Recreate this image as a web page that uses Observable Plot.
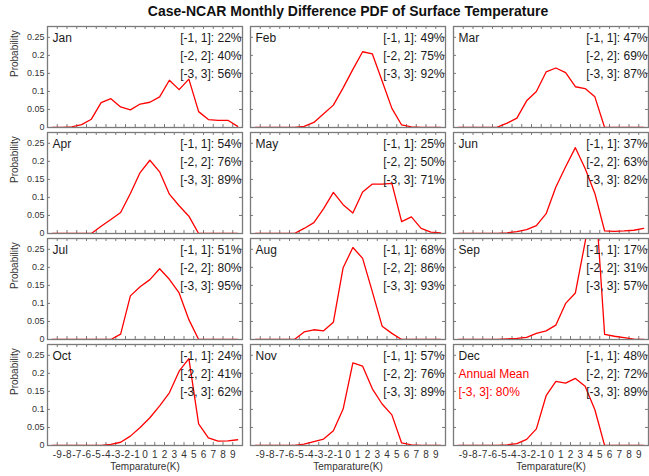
<!DOCTYPE html>
<html><head><meta charset="utf-8">
<script src="https://cdn.jsdelivr.net/npm/d3@7"></script>
<script src="https://cdn.jsdelivr.net/npm/@observablehq/plot@0.6"></script>
<style>
body{margin:0;background:#fff;font-family:"Liberation Sans",Arial,sans-serif;}
#wrap{position:relative;width:649px;height:476px;overflow:hidden;}
#title{position:absolute;left:47px;width:602px;top:3px;text-align:center;font-weight:bold;font-size:14px;color:#111;}
#chart{position:absolute;left:0;top:20px;}
</style></head><body>
<div id="wrap"><div id="title">Case-NCAR Monthly Difference PDF of Surface Temperature</div><div id="chart"></div></div>
<script>
const months = ["Jan","Feb","Mar","Apr","May","Jun","Jul","Aug","Sep","Oct","Nov","Dec"];
const xCenters = [-9.5,-8.5,-7.5,-6.5,-5.5,-4.5,-3.5,-2.5,-1.5,-0.5,0.5,1.5,2.5,3.5,4.5,5.5,6.5,7.5,8.5,9.5];
const jan = [0,0,0.002,0.008,0.023,0.069,0.080,0.057,0.049,0.065,0.070,0.085,0.131,0.105,0.134,0.044,0.022,0.020,0.020,0.003];
const feb = [0,0,0,0,0,0.003,0.014,0.038,0.062,0.110,0.161,0.210,0.204,0.129,0.053,0.007,0.002,0,0,0];
const mar = [0,0,0,0,0.001,0.012,0.026,0.074,0.100,0.154,0.165,0.152,0.113,0.108,0.085,0,0,0,0,0];
const apr = [0,0,0,0,0,0.020,0.039,0.058,0.111,0.169,0.203,0.171,0.109,0.077,0.048,0,0,0,0,0];
const may = [0,0,0,0,0,0.014,0.030,0.069,0.114,0.080,0.057,0.115,0.137,0.137,0.139,0.033,0.046,0.014,0.004,0.002];
const jun = [0,0,0,0,0,0.002,0.005,0.011,0.022,0.055,0.129,0.185,0.238,0.180,0.111,0.007,0.006,0.007,0.009,0.014];
const jul = [0,0,0,0,0,0,0,0.015,0.121,0.146,0.166,0.196,0.167,0.129,0.055,0,0,0,0,0];
const aug = [0,0,0,0,0,0.021,0.027,0.024,0.048,0.199,0.255,0.225,0.132,0.037,0.017,0,0,0,0,0];
const sep = [0,0,0,0,0,0.002,0.003,0.006,0.017,0.024,0.040,0.100,0.129,0.270,0.420,0.014,0.009,0.005,0.001,0];
const oct = [0,0,0,0,0,0,0.003,0.009,0.026,0.050,0.077,0.110,0.146,0.206,0.241,0.060,0.021,0.012,0.013,0.016];
const nov = [0,0,0,0,0,0.004,0.011,0.018,0.041,0.101,0.229,0.220,0.157,0.115,0.085,0.007,0.002,0,0,0];
const dec = [0,0,0,0,0,0.002,0.005,0.017,0.046,0.138,0.178,0.173,0.186,0.164,0.099,0,0,0,0,0];
const series = [jan,feb,mar,apr,may,jun,jul,aug,sep,oct,nov,dec];
const pct1 = [22,49,47,54,25,37,51,68,17,24,57,48];
const pct2 = [40,75,69,76,50,63,80,86,31,41,76,72];
const pct3 = [56,92,87,89,71,82,95,93,57,62,89,89];
const annualMean3 = 80;
const xTicks = [-9,-8,-7,-6,-5,-4,-3,-2,-1,0,1,2,3,4,5,6,7,8,9];
const yTicks = [0,0.05,0.1,0.15,0.2,0.25];
const xDomain = [-10,10];
const yDomain = [0,0.28];

const rows = [];
series.forEach((vals,i)=>vals.forEach((v,k)=>rows.push({month:months[i],col:i%3,row:Math.floor(i/3),x:xCenters[k],y:v})));
const panels = months.map((m,i)=>({month:m,col:i%3,row:Math.floor(i/3),
  s1:`[-1, 1]: ${pct1[i]}%`, s2:`[-2, 2]: ${pct2[i]}%`, s3:`[-3, 3]: ${pct3[i]}%`}));
const bottomPanels = panels.filter(p=>p.row===3);
const leftPanels = panels.filter(p=>p.col===0);
const decPanel = panels.filter(p=>p.month==="Dec");

const tickLenY = (yDomain[1]-yDomain[0])*3/102;
const tickLenX = (xDomain[1]-xDomain[0])*3/195;
const frameColor = "#7a7a7a";
const txt = {fontSize:12, fill:"#1a1a1a", lineAnchor:"middle"};

const plot = Plot.plot({
  width:649, height:456,
  marginLeft:47, marginRight:1, marginTop:5, marginBottom:29,
  style:{fontFamily:"Liberation Sans, Arial, sans-serif", background:"white"},
  x:{domain:xDomain},
  y:{domain:yDomain},
  fx:{domain:[0,1,2], axis:null, paddingInner:0.04, paddingOuter:0},
  fy:{domain:[0,1,2,3], axis:null, paddingInner:0.047, paddingOuter:0},
  marks:[
    Plot.axisX(xTicks,{anchor:"bottom", tickSize:0, tickPadding:5, fontSize:10, color:"#333", label:null, tickFormat:d=>String(d)}),
    Plot.axisY(yTicks,{anchor:"left", tickSize:0, tickPadding:3, fontSize:9, color:"#333", label:null, tickFormat:d3.format("~g")}),
    Plot.ruleX(xTicks,{x:d=>d, y1:yDomain[0], y2:yDomain[0]+tickLenY, stroke:frameColor}),
    Plot.ruleX(xTicks,{x:d=>d, y1:yDomain[1]-tickLenY, y2:yDomain[1], stroke:frameColor}),
    Plot.ruleY(yTicks,{y:d=>d, x1:xDomain[0], x2:xDomain[0]+tickLenX, stroke:frameColor}),
    Plot.ruleY(yTicks,{y:d=>d, x1:xDomain[1]-tickLenX, x2:xDomain[1], stroke:frameColor}),
    Plot.line(rows,{x:"x", y:"y", fx:"col", fy:"row", z:"month", stroke:"#ff0000", strokeWidth:1.3, clip:true}),
    Plot.frame({stroke:frameColor, strokeWidth:1.3}),
    Plot.text(panels,{fx:"col", fy:"row", text:"month", frameAnchor:"top-left", dx:5, dy:11.3, textAnchor:"start", ...txt}),
    Plot.text(panels,{fx:"col", fy:"row", text:"s1", frameAnchor:"top-right", dx:-1, dy:11.3, textAnchor:"end", ...txt}),
    Plot.text(panels,{fx:"col", fy:"row", text:"s2", frameAnchor:"top-right", dx:-1, dy:29.5, textAnchor:"end", ...txt}),
    Plot.text(panels,{fx:"col", fy:"row", text:"s3", frameAnchor:"top-right", dx:-1, dy:47.7, textAnchor:"end", ...txt}),
    Plot.text(decPanel,{fx:"col", fy:"row", text:()=>"Annual Mean", frameAnchor:"top-left", dx:5, dy:29.5, textAnchor:"start", fontSize:12, fill:"#ff0000", lineAnchor:"middle"}),
    Plot.text(decPanel,{fx:"col", fy:"row", text:()=>`[-3, 3]: ${annualMean3}%`, frameAnchor:"top-left", dx:5, dy:47.7, textAnchor:"start", fontSize:12, fill:"#ff0000", lineAnchor:"middle"}),
    Plot.text(bottomPanels,{fx:"col", fy:"row", text:()=>"Temparature(K)", frameAnchor:"bottom", dy:21, lineAnchor:"middle", fontSize:10, fill:"#333"}),
    Plot.text(leftPanels,{fx:"col", fy:"row", text:()=>"Probability", frameAnchor:"left", dx:-33, rotate:-90, lineAnchor:"middle", fontSize:10, fill:"#333"})
  ]
});
document.getElementById("chart").appendChild(plot);
</script>
</body></html>
